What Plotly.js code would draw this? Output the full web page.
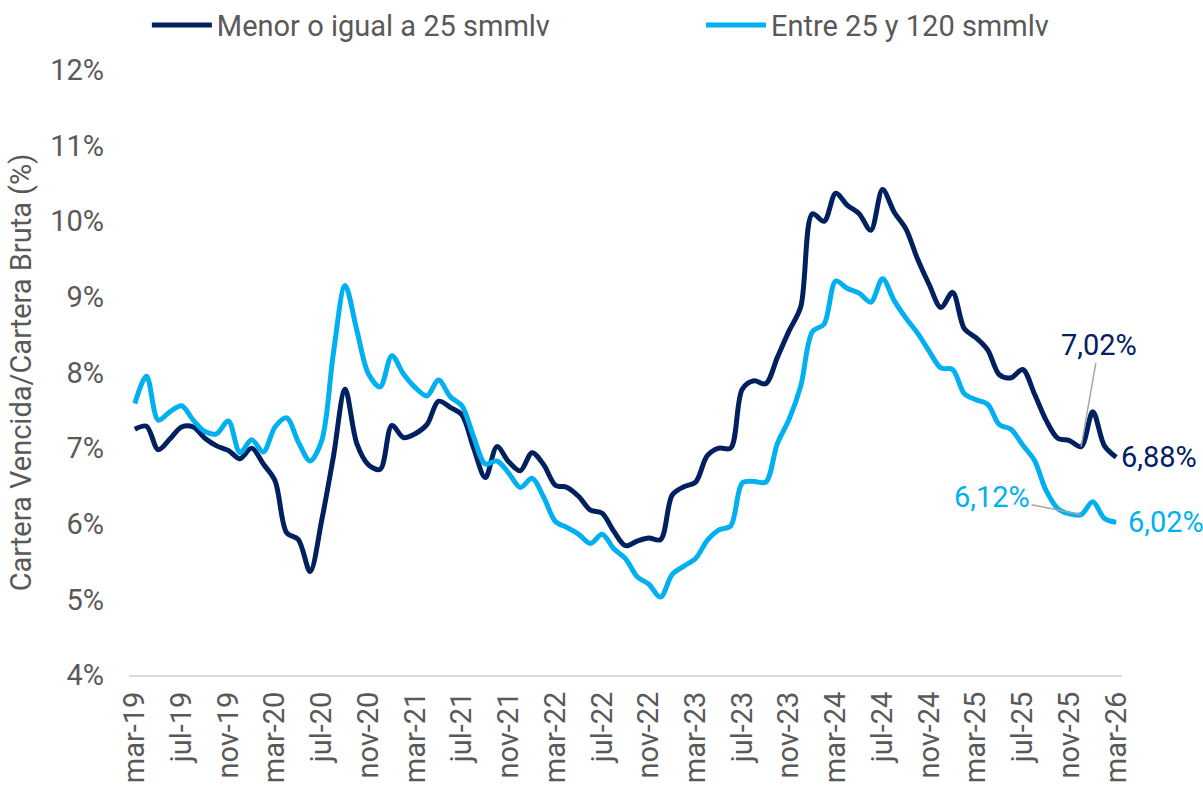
<!DOCTYPE html>
<html>
<head>
<meta charset="utf-8">
<script src="https://cdn.plot.ly/plotly-3.0.1.min.js"></script>
<style>
  html, body { margin: 0; padding: 0; background: #ffffff; }
  #chart { width: 1203px; height: 786px; }
</style>
</head>
<body>
<div id="chart"></div>
<script>
// Categories (monthly, mar-19 .. mar-26)
const categories = [
  'mar-19','abr-19','may-19','jun-19','jul-19','ago-19','sep-19','oct-19','nov-19','dic-19',
  'ene-20','feb-20','mar-20','abr-20','may-20','jun-20','jul-20','ago-20','sep-20','oct-20','nov-20','dic-20',
  'ene-21','feb-21','mar-21','abr-21','may-21','jun-21','jul-21','ago-21','sep-21','oct-21','nov-21','dic-21',
  'ene-22','feb-22','mar-22','abr-22','may-22','jun-22','jul-22','ago-22','sep-22','oct-22','nov-22','dic-22',
  'ene-23','feb-23','mar-23','abr-23','may-23','jun-23','jul-23','ago-23','sep-23','oct-23','nov-23','dic-23',
  'ene-24','feb-24','mar-24','abr-24','may-24','jun-24','jul-24','ago-24','sep-24','oct-24','nov-24','dic-24',
  'ene-25','feb-25','mar-25','abr-25','may-25','jun-25','jul-25','ago-25','sep-25','oct-25','nov-25','dic-25',
  'ene-26','feb-26','mar-26'
];

// Menor o igual a 25 smmlv (%)
const menor = [
  7.25, 7.29, 6.98, 7.12, 7.28, 7.28, 7.13, 7.03, 6.97, 6.86,
  7.00, 6.79, 6.57, 5.88, 5.79, 5.37, 6.05, 6.89, 7.78, 7.06, 6.78, 6.72,
  7.30, 7.14, 7.19, 7.31, 7.62, 7.54, 7.44, 7.00, 6.61, 7.02, 6.82, 6.70,
  6.94, 6.78, 6.51, 6.48, 6.36, 6.18, 6.14, 5.90, 5.71, 5.77, 5.81, 5.79,
  6.38, 6.49, 6.55, 6.90, 7.00, 7.00, 7.78, 7.89, 7.85, 8.20, 8.55, 8.87,
  10.10, 10.00, 10.37, 10.21, 10.10, 9.88, 10.42, 10.12, 9.90, 9.50, 9.16, 8.86,
  9.06, 8.58, 8.46, 8.30, 7.97, 7.93, 8.04, 7.72, 7.37, 7.13, 7.10, 7.02,
  7.48, 7.03, 6.88
];

// Entre 25 y 120 smmlv (%)
const entre = [
  7.59, 7.95, 7.37, 7.48, 7.56, 7.37, 7.22, 7.19, 7.36, 6.94,
  7.11, 6.95, 7.28, 7.40, 7.08, 6.83, 7.10, 8.26, 9.15, 8.56, 7.98, 7.81,
  8.22, 7.98, 7.80, 7.69, 7.90, 7.68, 7.56, 7.15, 6.79, 6.83, 6.67, 6.48,
  6.60, 6.35, 6.03, 5.95, 5.86, 5.74, 5.86, 5.67, 5.54, 5.30, 5.20, 5.03,
  5.33, 5.44, 5.54, 5.78, 5.92, 5.97, 6.54, 6.56, 6.55, 7.06, 7.38, 7.82,
  8.54, 8.64, 9.21, 9.11, 9.05, 8.93, 9.24, 8.95, 8.72, 8.52, 8.28, 8.06,
  8.04, 7.72, 7.64, 7.58, 7.31, 7.25, 7.04, 6.84, 6.44, 6.20, 6.13, 6.12,
  6.29, 6.07, 6.02
];

// Axis tick labels
const xTickLabels = ['mar-19','jul-19','nov-19','mar-20','jul-20','nov-20','mar-21','jul-21',
  'nov-21','mar-22','jul-22','nov-22','mar-23','jul-23','nov-23','mar-24','jul-24','nov-24',
  'mar-25','jul-25','nov-25','mar-26'];
const yTickVals = [4, 5, 6, 7, 8, 9, 10, 11, 12];
const yTickLabels = ['4%','5%','6%','7%','8%','9%','10%','11%','12%'];

const seriesNames = ['Menor o igual a 25 smmlv', 'Entre 25 y 120 smmlv'];
const calloutCategory = 'dic-25';

const DARK = '#002060';
const LIGHT = '#00B0F0';
const GREY_TXT = '#595959';
const FONT = 'Roboto, "Open Sans", Arial, sans-serif';
const FS = 29;

function fmt(v) { return v.toFixed(2).replace('.', ',') + '%'; }

const lastIdx = categories.length - 1;
const cIdx = categories.indexOf(calloutCategory);

const traces = [
  {
    x: categories, y: menor, name: seriesNames[0], type: 'scatter', mode: 'lines',
    line: { color: DARK, width: 5, shape: 'spline', smoothing: 0.9 },
    legend: 'legend', hoverinfo: 'skip'
  },
  {
    x: categories, y: entre, name: seriesNames[1], type: 'scatter', mode: 'lines',
    line: { color: LIGHT, width: 5, shape: 'spline', smoothing: 0.9 },
    legend: 'legend2', hoverinfo: 'skip'
  }
];

const annotations = [
  { x: categories[cIdx], y: menor[cIdx], xref: 'x', yref: 'y', text: fmt(menor[cIdx]),
    showarrow: true, arrowhead: 0, arrowwidth: 1.5, arrowcolor: '#A6A6A6',
    ax: 18, ay: -102, standoff: 0,
    font: { family: FONT, size: FS, color: DARK } },
  { x: categories[cIdx], y: entre[cIdx], xref: 'x', yref: 'y', text: fmt(entre[cIdx]),
    showarrow: true, arrowhead: 0, arrowwidth: 1.5, arrowcolor: '#A6A6A6',
    ax: -89, ay: -18, standoff: 0,
    font: { family: FONT, size: FS, color: LIGHT } },
  { x: categories[lastIdx], y: menor[lastIdx], xref: 'x', yref: 'y', text: fmt(menor[lastIdx]),
    showarrow: false, xanchor: 'left', yanchor: 'middle', xshift: 3,
    font: { family: FONT, size: FS, color: DARK } },
  { x: categories[lastIdx], y: entre[lastIdx], xref: 'x', yref: 'y', text: fmt(entre[lastIdx]),
    showarrow: false, xanchor: 'left', yanchor: 'middle', xshift: 10,
    font: { family: FONT, size: FS, color: LIGHT } }
];

const layout = {
  width: 1203, height: 786,
  margin: { l: 129, r: 81, t: 70, b: 111, autoexpand: false },
  paper_bgcolor: '#ffffff', plot_bgcolor: '#ffffff',
  font: { family: FONT, size: FS, color: GREY_TXT },
  showlegend: true,
  legend: {
    orientation: 'h', x: 0.018, y: 1.074, xanchor: 'left', yanchor: 'middle',
    font: { family: FONT, size: FS, color: GREY_TXT }, itemwidth: 60,
    bgcolor: 'rgba(0,0,0,0)'
  },
  legend2: {
    orientation: 'h', x: 0.576, y: 1.074, xanchor: 'left', yanchor: 'middle',
    font: { family: FONT, size: FS, color: GREY_TXT }, itemwidth: 60,
    bgcolor: 'rgba(0,0,0,0)'
  },
  xaxis: {
    type: 'category', range: [-0.5, lastIdx + 0.5],
    tickmode: 'array', tickvals: xTickLabels, ticktext: xTickLabels,
    tickangle: -90, showgrid: false, zeroline: false,
    showline: true, linecolor: '#D9D9D9', linewidth: 2,
    ticks: '', ticklabelstandoff: 3,
    tickfont: { family: FONT, size: FS, color: GREY_TXT },
    fixedrange: true
  },
  yaxis: {
    range: [4, 12], tickmode: 'array', tickvals: yTickVals, ticktext: yTickLabels,
    showgrid: false, zeroline: false, showline: false, ticks: '',
    ticklabelstandoff: 24,
    tickfont: { family: FONT, size: FS, color: GREY_TXT },
    title: { text: 'Cartera Vencida/Cartera Bruta (%)', standoff: 10,
             font: { family: FONT, size: FS, color: GREY_TXT } },
    fixedrange: true
  },
  annotations: annotations
};

Plotly.newPlot('chart', traces, layout, { displayModeBar: false, staticPlot: true });
</script>
</body>
</html>
